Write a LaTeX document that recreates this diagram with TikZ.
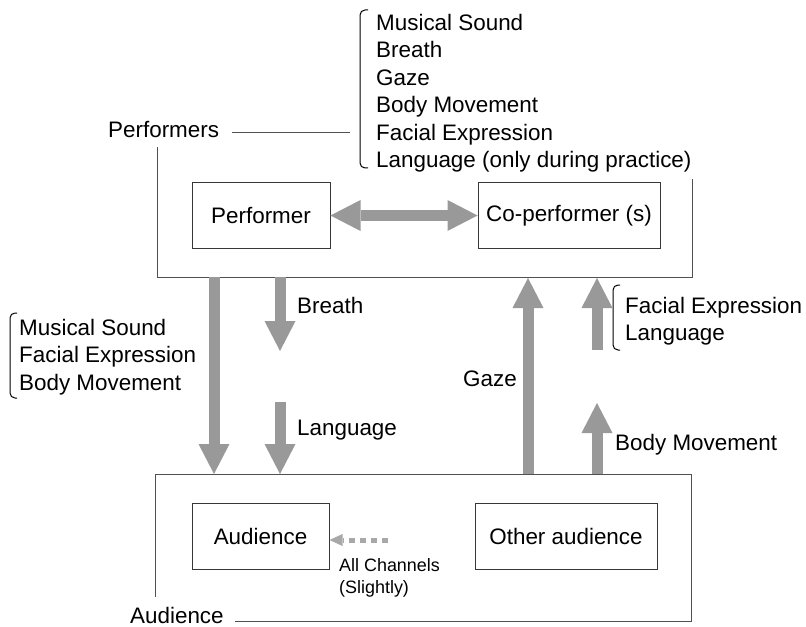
\documentclass[tikz,border=0pt]{standalone}
\usepackage{fontspec}
\setmainfont{Liberation Sans}
\usetikzlibrary{arrows.meta, positioning, calc}
\definecolor{inkc}{RGB}{0,0,0}
\definecolor{framec}{RGB}{80,80,80}
\definecolor{boxc}{RGB}{55,55,55}
\definecolor{flowc}{RGB}{153,153,153}
\definecolor{faintc}{RGB}{168,168,168}
\tikzset{
  txt/.style={font=\fontsize{22.5}{27.6}\selectfont, text=inkc, inner sep=0pt, align=left},
  small/.style={font=\fontsize{18}{22}\selectfont, text=inkc, inner sep=0pt, align=left},
  agent/.style={rectangle, draw=boxc, line width=1bp, txt, align=center,
                minimum height=65bp},
  frame/.style={draw=framec, line width=1bp},
  brace/.style={draw=inkc, line width=1bp, rounded corners=5bp},
  flow/.style={draw=flowc, line width=11bp,
               -{Triangle[length=30bp, width=31bp, line width=0pt]}},
  bothflow/.style={draw=flowc, line width=11bp,
               {Triangle[length=30bp, width=31bp, line width=0pt]}-{Triangle[length=30bp, width=31bp, line width=0pt]}},
  faint/.style={draw=faintc, line width=5bp, dash pattern=on 6bp off 5bp,
               -{Triangle[length=13bp, width=12bp, line width=0pt]}},
}

\begin{document}
\begin{tikzpicture}[x=1bp, y=-1bp]
  \useasboundingbox (0,0) rectangle (806,627);

  % the two groups and who sits in them
  \node[agent, minimum width=138bp] (performer) at (261,215.5) {Performer};
  \node[agent, minimum width=182bp, right=147bp of performer] (coperformer) {Co-performer (s)};
  \node[agent, minimum width=137bp, minimum height=66bp] (audience) at (260.5,536) {Audience};
  \node[agent, minimum width=182bp, minimum height=66bp, right=145bp of audience] (otheraud) {Other audience};

  \node[txt, anchor=west] (playlbl) at (108,130) {Performers};
  \node[txt, anchor=west] (hearlbl) at (130,615) {Audience};

  \draw[frame] (157,147) -- (157,277) -- (692,277) -- (692,179);
  \draw[frame] (155,597) -- (155,474) -- (691,474) -- (691,621) -- (235,621);
  \draw[frame] (232,133) -- (350,133);

  % channel lists
  \node[txt, anchor=west] (chanplay) at (376,93)
    {Musical Sound\\Breath\\Gaze\\Body Movement\\Facial Expression\\Language (only during practice)};
  \draw[brace] (368,10) -- (360,10) -- (360,168) -- (368,168);
  \node[txt, anchor=west] (chandown) at (19,357) {Musical Sound\\Facial Expression\\Body Movement};
  \draw[brace] (17,313) -- (10,313) -- (10,398) -- (17,398);
  \node[txt, anchor=west] (chanup) at (625,321) {Facial Expression\\Language};
  \draw[brace] (620,285) -- (613,285) -- (613,350) -- (620,350);

  \node[txt, anchor=west] (breathlbl) at (297,305) {Breath};
  \node[txt, anchor=west] (langlbl) at (297,430) {Language};
  \node[txt, anchor=west] (gazelbl) at (463,379) {Gaze};
  \node[txt, anchor=west] (movelbl) at (615,445) {Body Movement};
  \node[small, anchor=west] (alllbl) at (339,578) {All Channels\\(Slightly)};

  % fat arrows run between the two frames
  \coordinate (sound-a) at (214,277);  \coordinate (sound-b) at (214,474);
  \coordinate (breath-a) at (280,277); \coordinate (breath-b) at (280,351);
  \coordinate (lang-a) at (280,402);   \coordinate (lang-b) at (280,474);
  \coordinate (gaze-a) at (528,474);   \coordinate (gaze-b) at (528,278);
  \coordinate (face-a) at (597,350);   \coordinate (face-b) at (597,278);
  \coordinate (move-a) at (597,474);   \coordinate (move-b) at (597,403);
  \coordinate (dots-a) at (388,540);

  \draw[flow] (sound-a) -- (sound-b);
  \draw[flow] (breath-a) -- (breath-b);
  \draw[flow] (lang-a) -- (lang-b);
  \draw[flow] (gaze-a) -- (gaze-b);
  \draw[flow] (face-a) -- (face-b);
  \draw[flow] (move-a) -- (move-b);
  \draw[bothflow] (performer.east) -- (coperformer.west);
  \draw[faint] (dots-a) -- (audience.east |- dots-a);
\end{tikzpicture}
\end{document}
